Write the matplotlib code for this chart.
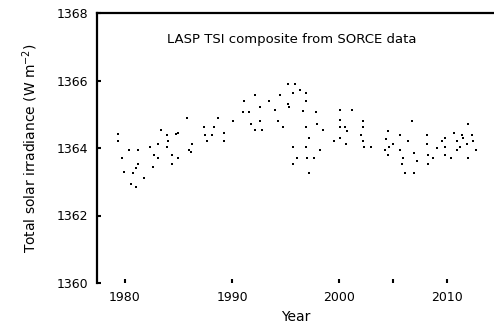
import matplotlib
matplotlib.use('Agg')
import matplotlib.pyplot as plt

# Data (year, total solar irradiance W m-2)
years = [1979.35, 1979.35, 1980.37, 1981.21, 1979.72, 1979.91, 1980.75, 1981.03, 1981.21, 1980.56,
         1981.03, 1981.77, 1982.33, 1982.70, 1983.08, 1982.61, 1983.08, 1983.36, 1983.91, 1984.01,
         1983.91, 1984.38, 1984.38, 1984.94, 1984.75, 1984.94, 1985.78, 1985.96, 1986.24, 1986.15,
         1987.36, 1987.46, 1987.64, 1988.11, 1988.29, 1988.67, 1989.23, 1989.23, 1990.07, 1991.09,
         1991.00, 1991.56, 1991.74, 1992.12, 1992.58, 1992.58, 1992.12, 1992.77, 1993.42, 1993.98,
         1994.26, 1994.45, 1994.73, 1995.19, 1995.28, 1995.19, 1995.84, 1995.66, 1996.31, 1996.87,
         1996.87, 1996.59, 1997.80, 1997.89, 1996.87, 1998.45, 1997.15, 1996.87, 1998.17, 1995.66,
         1996.03, 1996.96, 1997.61, 1995.66, 1997.15, 2000.04, 2001.16, 2000.04, 2000.50, 2000.69,
         2000.04, 2000.04, 1999.48, 2000.60, 2002.18, 2002.18, 2001.99, 2002.18, 2002.27, 2002.93,
         2004.51, 2004.32, 2004.98, 2004.60, 2004.23, 2004.51, 2005.63, 2005.63, 2006.37, 2006.75,
         2005.91, 2005.82, 2006.10, 2006.93, 2006.93, 2007.21, 2008.15, 2008.15, 2008.24, 2008.24,
         2008.70, 2009.08, 2009.54, 2009.82, 2009.82, 2009.82, 2010.38, 2010.66, 2010.94, 2010.94,
         2011.22, 2011.41, 2011.50, 2011.87, 2011.97, 2011.97, 2012.34, 2012.43, 2012.71]
tsi = [1364.42, 1364.21, 1363.94, 1363.94, 1363.70, 1363.28, 1363.25, 1363.40, 1363.52, 1362.93,
       1362.84, 1363.10, 1364.03, 1363.79, 1363.70, 1363.43, 1364.12, 1364.54, 1364.39, 1364.21,
       1364.03, 1363.79, 1363.52, 1363.70, 1364.42, 1364.45, 1364.90, 1363.94, 1364.12, 1363.88,
       1364.63, 1364.39, 1364.21, 1364.39, 1364.63, 1364.90, 1364.45, 1364.21, 1364.81, 1365.40,
       1365.07, 1365.07, 1364.72, 1365.58, 1365.22, 1364.81, 1364.54, 1364.54, 1365.40, 1365.13,
       1364.81, 1365.58, 1364.63, 1365.31, 1365.22, 1365.91, 1365.91, 1365.64, 1365.73, 1365.64,
       1365.40, 1365.10, 1365.07, 1364.72, 1364.63, 1364.54, 1364.30, 1364.03, 1363.94, 1364.03,
       1363.70, 1363.70, 1363.70, 1363.52, 1363.25, 1365.13, 1365.13, 1364.84, 1364.63, 1364.51,
       1364.63, 1364.30, 1364.21, 1364.12, 1364.81, 1364.63, 1364.39, 1364.21, 1364.03, 1364.03,
       1364.51, 1364.27, 1364.12, 1364.03, 1363.94, 1363.79, 1364.39, 1363.94, 1364.21, 1364.81,
       1363.70, 1363.52, 1363.25, 1363.25, 1363.85, 1363.61, 1364.39, 1364.12, 1363.79, 1363.52,
       1363.70, 1364.00, 1364.21, 1364.30, 1364.03, 1363.79, 1363.70, 1364.45, 1364.21, 1363.94,
       1364.03, 1364.39, 1364.30, 1364.12, 1364.72, 1363.70, 1364.39, 1364.21, 1363.94]

xticks = [1980, 1990, 2000, 2005, 2010]
xticklabels = ['1980', '1990', '2000', '', '2010']
yticks = [1360, 1362, 1364, 1366, 1368]

fig = plt.figure(figsize=(4.94, 3.26), dpi=100)
ax = fig.add_axes([97/494, 43/326, 397/494, 270/326])

ax.plot(years, tsi, 's', color='black', ms=2, mew=0)

ax.set_xlim(1977.4, 2014.4)
ax.set_ylim(1360, 1368)
ax.set_xticks(xticks)
ax.set_xticklabels(xticklabels)
ax.set_yticks(yticks)

# only left and top frame lines
ax.spines['right'].set_visible(False)
ax.spines['bottom'].set_visible(False)
ax.spines['left'].set_linewidth(1.6)
ax.spines['top'].set_linewidth(1.6)
ax.tick_params(direction='in', length=3, width=1.5, labelsize=9, pad=6)

ax.set_xlabel('Year', fontsize=10, labelpad=4)
ax.set_ylabel('Total solar irradiance (W m$^{-2}$)', fontsize=10, labelpad=12)

ax.text(0.49, 0.90, 'LASP TSI composite from SORCE data', transform=ax.transAxes,
        ha='center', va='center', fontsize=9.5)

plt.savefig('out.png', dpi=100)
